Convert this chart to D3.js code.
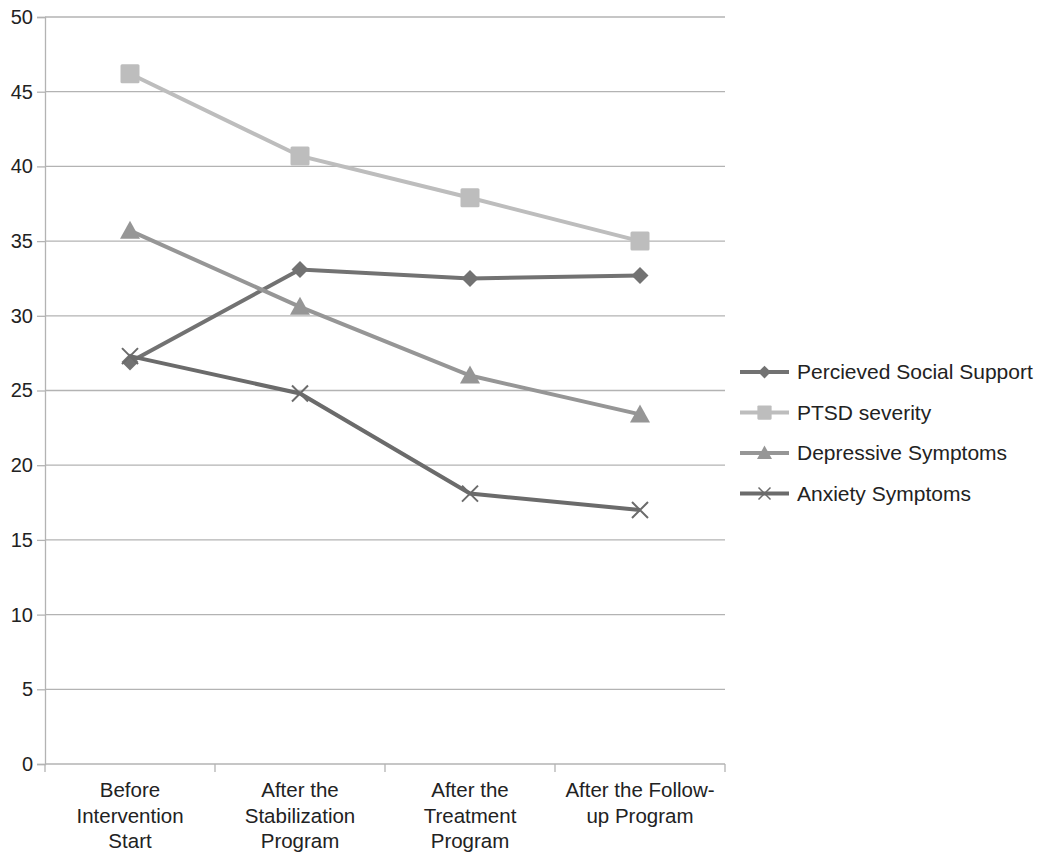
<!DOCTYPE html>
<html>
<head>
<meta charset="utf-8">
<script src="https://cdn.jsdelivr.net/npm/d3@7"></script>
<style>
  body { margin: 0; background: #fff; }
  text { font-family: "Liberation Sans", Arial, sans-serif; fill: #222; }
</style>
</head>
<body>
<svg id="chart"></svg>
<script>
// Data
const stages = [
    ['Before', 'Intervention', 'Start'],
    ['After the', 'Stabilization', 'Program'],
    ['After the', 'Treatment', 'Program'],
    ['After the Follow-', 'up Program']
];
const socialSupport = [26.9, 33.1, 32.5, 32.7];
const ptsdSeverity = [46.2, 40.7, 37.9, 35.0];
const depressive = [35.7, 30.6, 26.0, 23.4];
const anxiety = [27.3, 24.8, 18.1, 17.0];
const yTicks = [0, 5, 10, 15, 20, 25, 30, 35, 40, 45, 50];

const series = [
    { name: 'Percieved Social Support', values: socialSupport, color: '#727272', marker: 'diamond' },
    { name: 'PTSD severity', values: ptsdSeverity, color: '#bdbdbd', marker: 'square' },
    { name: 'Depressive Symptoms', values: depressive, color: '#969696', marker: 'triangle' },
    { name: 'Anxiety Symptoms', values: anxiety, color: '#6b6b6b', marker: 'cross' }
];

const width = 1039, height = 853;
const margin = { top: 17, right: 314, bottom: 89, left: 45 };

const svg = d3.select('#chart').attr('width', width).attr('height', height);

const x = d3.scaleBand()
    .domain(d3.range(stages.length))
    .range([margin.left, width - margin.right]);

const y = d3.scaleLinear()
    .domain([0, 50])
    .range([height - margin.bottom, margin.top]);

// Gridlines
svg.append('g')
    .selectAll('line')
    .data(yTicks.filter(d => d > 0))
    .join('line')
    .attr('x1', margin.left)
    .attr('x2', width - margin.right)
    .attr('y1', d => y(d))
    .attr('y2', d => y(d))
    .attr('stroke', '#b3b3b3')
    .attr('stroke-width', 1.3);

// Y axis
const yAxis = svg.append('g')
    .attr('transform', `translate(${margin.left},0)`)
    .call(d3.axisLeft(y).tickValues(yTicks).tickSize(8).tickPadding(4));
yAxis.select('.domain').attr('stroke', '#b3b3b3').attr('stroke-width', 1.3);
yAxis.selectAll('.tick line').attr('stroke', '#b3b3b3').attr('stroke-width', 1.3);
yAxis.selectAll('.tick text')
    .attr('font-size', 20)
    .style('font-family', '"Liberation Sans", Arial, sans-serif')
    .attr('fill', '#222');

// X axis baseline and ticks at band edges
const xg = svg.append('g');
xg.append('line')
    .attr('x1', margin.left)
    .attr('x2', width - margin.right)
    .attr('y1', y(0))
    .attr('y2', y(0))
    .attr('stroke', '#b3b3b3')
    .attr('stroke-width', 1.3);
const edges = d3.range(stages.length + 1).map(i => margin.left + i * x.step());
xg.selectAll('.xtick')
    .data(edges)
    .join('line')
    .attr('x1', d => d)
    .attr('x2', d => d)
    .attr('y1', y(0))
    .attr('y2', y(0) + 8)
    .attr('stroke', '#b3b3b3')
    .attr('stroke-width', 1.3);

// X labels
xg.selectAll('.xlabel')
    .data(stages)
    .join('text')
    .attr('text-anchor', 'middle')
    .attr('font-size', 20.5)
    .attr('transform', (d, i) => `translate(${x(i) + x.bandwidth() / 2},${y(0) + 33})`)
    .selectAll('tspan')
    .data(d => d)
    .join('tspan')
    .attr('x', 0)
    .attr('dy', (d, i) => i === 0 ? 0 : 25.5)
    .text(d => d);

const cx = i => x(i) + x.bandwidth() / 2;

function drawMarker(g, type, color) {
    if (type === 'diamond') {
        g.append('path').attr('d', 'M0,-8.5L8.5,0L0,8.5L-8.5,0Z').attr('fill', color);
    } else if (type === 'square') {
        g.append('rect').attr('x', -9.5).attr('y', -9.5).attr('width', 19).attr('height', 19).attr('rx', 1.5).attr('fill', color);
    } else if (type === 'triangle') {
        g.append('path').attr('d', 'M0,-10L10,8L-10,8Z').attr('fill', color);
    } else {
        g.append('path').attr('d', 'M-8,-8L8,8M-8,8L8,-8').attr('stroke', color).attr('stroke-width', 2).attr('fill', 'none');
    }
}

const line = d3.line().x((d, i) => cx(i)).y(d => y(d));

series.forEach(s => {
    svg.append('path')
        .datum(s.values)
        .attr('fill', 'none')
        .attr('stroke', s.color)
        .attr('stroke-width', 4)
        .attr('d', line);
    s.values.forEach((v, i) => {
        const g = svg.append('g').attr('transform', `translate(${cx(i)},${y(v)})`);
        drawMarker(g, s.marker, s.color);
    });
});

// Legend
const legend = svg.append('g').attr('transform', 'translate(740,372)');
series.forEach((s, i) => {
    const g = legend.append('g').attr('transform', `translate(0,${i * 40.5})`);
    g.append('line').attr('x1', 0).attr('x2', 49).attr('stroke', s.color).attr('stroke-width', 4);
    const m = g.append('g').attr('transform', 'translate(24.5,0) scale(0.75)');
    drawMarker(m, s.marker, s.color);
    g.append('text')
        .attr('x', 57)
        .attr('dy', '0.35em')
        .attr('font-size', 21)
        .text(s.name);
});
</script>
</body>
</html>
